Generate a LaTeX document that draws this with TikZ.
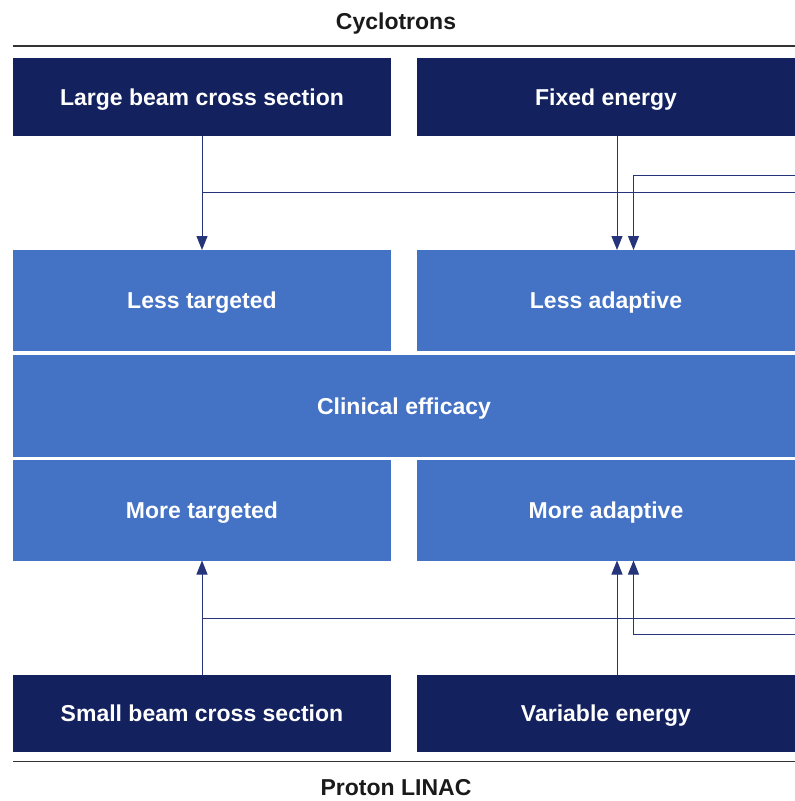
\documentclass[tikz,border=0pt]{standalone}
\usepackage{fontspec}
\setmainfont{Liberation Sans}
\usetikzlibrary{arrows.meta}
\definecolor{navy}{HTML}{13215E}
\definecolor{midblue}{HTML}{4472C4}
\definecolor{linkcol}{HTML}{26357A}
\definecolor{rulecol}{HTML}{333333}
\definecolor{titlecol}{HTML}{1A1A1A}
\tikzset{
  box/.style={rectangle, inner sep=0pt, outer sep=0pt, text=white,
    font=\fontsize{23}{27}\selectfont\bfseries, minimum width=378pt,
    text height=16.5pt, text depth=0pt},
  darkbox/.style={box, fill=navy, minimum height=77.5pt},
  lightbox/.style={box, fill=midblue, minimum height=100.5pt},
  heading/.style={text=titlecol, font=\fontsize{23}{27}\selectfont\bfseries, inner sep=0pt,
    text height=16.5pt, text depth=0pt},
  sep/.style={draw=rulecol, line width=1.3pt},
  link/.style={draw=linkcol, line width=1pt},
  arr/.style={link, -{Triangle[length=14pt,width=11pt]}}
}
\begin{document}
\begin{tikzpicture}[x=1pt,y=-1pt]
\useasboundingbox (0,0) rectangle (795,801);

% headings and rules
\node[heading] (cyc) at (396,21) {Cyclotrons};
\node[heading] (lin) at (396,787.5) {Proton LINAC};
\coordinate (r1a) at (13,46);  \coordinate (r1b) at (795,46);
\coordinate (r2a) at (13,761.5); \coordinate (r2b) at (795,761.5);
\draw[sep] (r1a) -- (r1b);
\draw[sep] (r2a) -- (r2b);

% boxes
\node[darkbox] (ltop) at (202,96.75) {Large beam cross section};
\node[darkbox] (rtop) at (606,96.75) {Fixed energy};
\node[lightbox] (lless) at (202,300.25) {Less targeted};
\node[lightbox] (rless) at (606,300.25) {Less adaptive};
\node[lightbox, minimum width=782pt, minimum height=101.5pt] (clin) at (404,405.75) {Clinical efficacy};
\node[lightbox] (lmore) at (202,510.25) {More targeted};
\node[lightbox] (rmore) at (606,510.25) {More adaptive};
\node[darkbox] (lbot) at (202,713.5) {Small beam cross section};
\node[darkbox] (rbot) at (606,713.5) {Variable energy};

% upper connectors
\coordinate (j1) at (202,192);
\coordinate (e1) at (795,192);
\coordinate (e2) at (795,175.5);
\draw[arr] (ltop.south) -- (lless.north);
\draw[link] (j1) -- (e1);
\draw[arr] ([xshift=11pt]rtop.south) -- ([xshift=11pt]rless.north);
\draw[arr] (e2) -| ([xshift=27.5pt]rless.north);

% lower connectors
\coordinate (j2) at (202,618);
\coordinate (e3) at (795,618);
\coordinate (e4) at (795,634.5);
\draw[arr] (lbot.north) -- (lmore.south);
\draw[link] (j2) -- (e3);
\draw[arr] ([xshift=11pt]rbot.north) -- ([xshift=11pt]rmore.south);
\draw[arr] (e4) -| ([xshift=27.5pt]rmore.south);
\end{tikzpicture}
\end{document}
